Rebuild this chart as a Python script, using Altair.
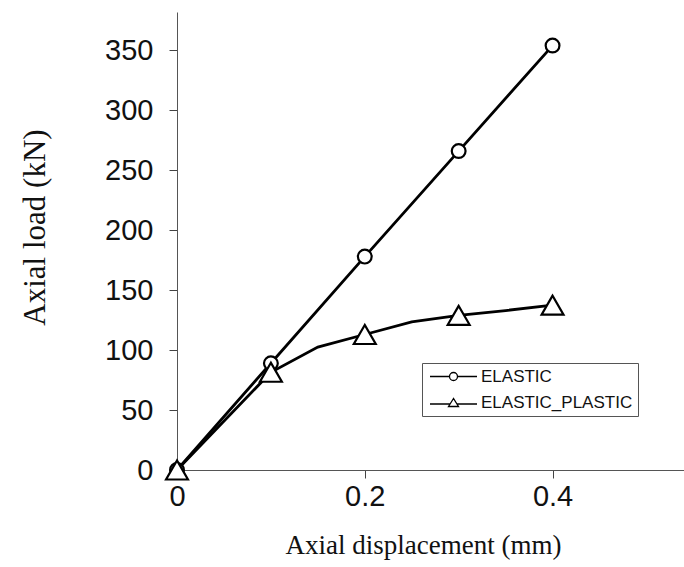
import altair as alt
import pandas as pd

series_names = ["ELASTIC", "ELASTIC_PLASTIC"]

elastic_x = [0, 0.1, 0.2, 0.3, 0.4]
elastic_y = [0, 89, 178, 266, 354]

plastic_x = [0, 0.1, 0.2, 0.3, 0.4]
plastic_y = [0, 81.5, 113, 129, 137.5]

plastic_curve_x = [0, 0.1, 0.15, 0.2, 0.25, 0.3, 0.35, 0.4]
plastic_curve_y = [0, 81.5, 102.5, 113, 123.5, 129, 133, 137.5]

x_ticks = [0, 0.2, 0.4]
y_ticks = [0, 50, 100, 150, 200, 250, 300, 350]

lines_df = pd.concat([
    pd.DataFrame({"x": elastic_x, "y": elastic_y, "series": series_names[0]}),
    pd.DataFrame({"x": plastic_curve_x, "y": plastic_curve_y, "series": series_names[1]}),
])
elastic_pts = pd.DataFrame({"x": elastic_x, "y": elastic_y, "series": series_names[0]})
plastic_pts = pd.DataFrame({"x": plastic_x, "y": plastic_y, "series": series_names[1]})
legend_df = pd.concat([elastic_pts, plastic_pts])

SANS = "Liberation Sans"
SERIF = "Liberation Serif"

x_enc = alt.X("x:Q", scale=alt.Scale(domain=[0, 0.54], nice=False, zero=True),
              axis=alt.Axis(values=x_ticks, format="~g", title="Axial displacement (mm)",
                            labelFlush=False,
                            titleX=246, titleY=75, titleBaseline="middle", titleAlign="center"))
y_enc = alt.Y("y:Q", scale=alt.Scale(domain=[0, 382], nice=False),
              axis=alt.Axis(values=y_ticks, title="Axial load (kN)", labelFlush=False,
                            titleX=-142, titleY=215, titleBaseline="middle", titleAlign="center",
                            titleAngle=270))

lines = alt.Chart(lines_df).mark_line(color="black", strokeWidth=2.8).encode(
    x=x_enc, y=y_enc, detail="series:N", order="x:Q")

pe = alt.Chart(elastic_pts).mark_point(shape="circle", size=190, filled=True, fill="white",
                                       stroke="black", strokeWidth=2.2, opacity=1).encode(x="x:Q", y="y:Q")
pp = alt.Chart(plastic_pts).mark_point(shape="triangle-up", size=480, filled=True, fill="white",
                                       stroke="black", strokeWidth=2.2, opacity=1).encode(x="x:Q", y="y:Q")

circle_sym = "M-4.7,0H-0.8M0.8,0H4.7M-0.8,0A0.8,0.8,0,1,0,0.8,0A0.8,0.8,0,1,0,-0.8,0Z"
tri_sym = "M-4.7,0.3H-0.69M0.69,0.3H4.7M0,-0.8L-1,0.8L1,0.8Z"

legend_layer = alt.Chart(legend_df).transform_filter("datum.x < 0").mark_point(
    filled=False, color="black").encode(
    x="x:Q", y="y:Q",
    shape=alt.Shape("series:N", scale=alt.Scale(domain=series_names, range=[circle_sym, tri_sym]),
                    legend=alt.Legend(title=None, orient="none", legendX=245, legendY=351,
                                      symbolSize=100, symbolStrokeColor="black", symbolFillColor="white",
                                      symbolStrokeWidth=1.3, symbolOpacity=1, symbolOffset=18,
                                      labelFont=SANS, labelFontSize=17, labelColor="#111",
                                      labelOffset=19, rowPadding=8, padding=5,
                                      strokeColor="#555", fillColor="white")))

chart = alt.layer(lines, pe, pp, legend_layer).properties(
    width=507, height=458,
    autosize=alt.AutoSizeParams(type="none"),
    padding={"left": 177, "top": 12, "right": 0, "bottom": 97},
).configure_view(stroke=None).configure_axis(
    grid=False, labelFont=SANS, labelFontSize=29, labelColor="#111",
    titleFont=SERIF, titleColor="#111", titleFontWeight="normal",
    domainColor="#555", domainWidth=1, tickColor="#444", tickSize=8, tickWidth=1,
).configure_axisX(labelPadding=4, titleFontSize=27).configure_axisY(
    labelPadding=16, titleFontSize=31)

chart.save("out.html", embed_options={"renderer": "svg", "actions": False})
